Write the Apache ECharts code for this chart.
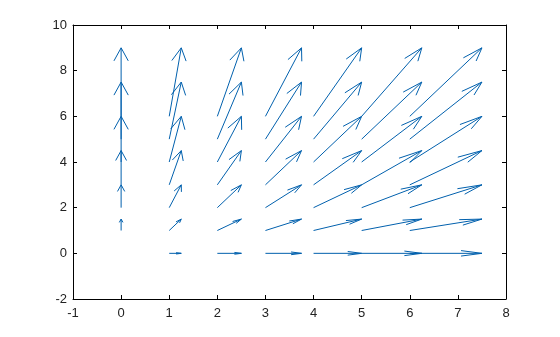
<!DOCTYPE html>
<html>
<head>
<meta charset="utf-8">
<style>html,body{margin:0;padding:0;background:#fff;}#c{width:560px;height:337px;}</style>
<script src="https://cdn.jsdelivr.net/npm/echarts@6/dist/echarts.min.js"></script>
</head>
<body>
<div id="c"></div>
<script>
// Grid of arrow origins and vector components
const xPositions = [0, 1, 2, 3, 4, 5, 6];
const yPositions = [0, 1, 2, 3, 4, 5, 6];
const dxByColumn = [0, 0.25, 0.5, 0.75, 1, 1.25, 1.5];
const dyByRow = [0, 0.5, 1, 1.5, 2, 2.5, 3];
const xTicks = [-1, 0, 1, 2, 3, 4, 5, 6, 7, 8];
const yTicks = [-2, 0, 2, 4, 6, 8, 10];

const data = [];
xPositions.forEach((x, i) => {
  yPositions.forEach((y, j) => {
    data.push([x, y, dxByColumn[i], dyByRow[j]]);
  });
});

const COLOR = '#0060ad';
const ASPECT = 2.05;      // arrow heads are built in a horizontally compressed space
const HEAD_ANGLE = 15 * Math.PI / 180;
function renderItem(params, api) {
  const x = api.value(0), y = api.value(1), dx = api.value(2), dy = api.value(3);
  const p0 = api.coord([x, y]);
  const p1 = api.coord([x + dx, y + dy]);
  const vx = p1[0] - p0[0], vy = p1[1] - p0[1];
  if (Math.hypot(vx, vy) < 0.5) return null;
  const sx = vx / ASPECT, sy = vy;
  const len = Math.hypot(sx, sy);
  const H = Math.max(2.6, Math.min(13.5, 0.3 * len));
  const bx = -sx / len, by = -sy / len;
  const c = Math.cos(HEAD_ANGLE), s = Math.sin(HEAD_ANGLE);
  const r1 = [bx * c - by * s, bx * s + by * c];
  const r2 = [bx * c + by * s, -bx * s + by * c];
  const w1 = [p1[0] + H * r1[0] * ASPECT, p1[1] + H * r1[1]];
  const w2 = [p1[0] + H * r2[0] * ASPECT, p1[1] + H * r2[1]];
  return {
    type: 'group',
    children: [
      { type: 'line', shape: { x1: p0[0], y1: p0[1], x2: p1[0], y2: p1[1] },
        style: { stroke: COLOR, lineWidth: 1 } },
      { type: 'polyline', shape: { points: [w1, p1, w2] },
        style: { stroke: COLOR, fill: null, lineWidth: 1 } }
    ]
  };
}

const axisFont = { fontFamily: 'Liberation Sans, Arial, sans-serif', fontSize: 13, color: '#222' };
const lineStyle = { color: '#000', width: 1 };

const chart = echarts.init(document.getElementById('c'));
chart.setOption({
  animation: false,
  grid: { left: 73, right: 54, top: 25, bottom: 38, containLabel: false },
  xAxis: [
    { type: 'value', min: xTicks[0], max: xTicks[xTicks.length - 1], interval: 1, position: 'bottom',
      axisLine: { show: true, onZero: false, lineStyle },
      axisTick: { show: true, inside: true, length: 4, lineStyle },
      axisLabel: Object.assign({ margin: 8 }, axisFont),
      splitLine: { show: false } },
    { type: 'value', min: xTicks[0], max: xTicks[xTicks.length - 1], interval: 1, position: 'top',
      axisLine: { show: true, onZero: false, lineStyle },
      axisTick: { show: true, inside: true, length: 4, lineStyle },
      axisLabel: { show: false }, splitLine: { show: false } }
  ],
  yAxis: [
    { type: 'value', min: yTicks[0], max: yTicks[yTicks.length - 1], interval: 2, position: 'left',
      axisLine: { show: true, onZero: false, lineStyle },
      axisTick: { show: true, inside: true, length: 4, lineStyle },
      axisLabel: Object.assign({ margin: 6 }, axisFont),
      splitLine: { show: false } },
    { type: 'value', min: yTicks[0], max: yTicks[yTicks.length - 1], interval: 2, position: 'right',
      axisLine: { show: true, onZero: false, lineStyle },
      axisTick: { show: true, inside: true, length: 4, lineStyle },
      axisLabel: { show: false }, splitLine: { show: false } }
  ],
  series: [{
    type: 'custom',
    xAxisIndex: 0, yAxisIndex: 0,
    renderItem,
    encode: { x: 0, y: 1 },
    data
  }]
});
</script>
</body>
</html>
